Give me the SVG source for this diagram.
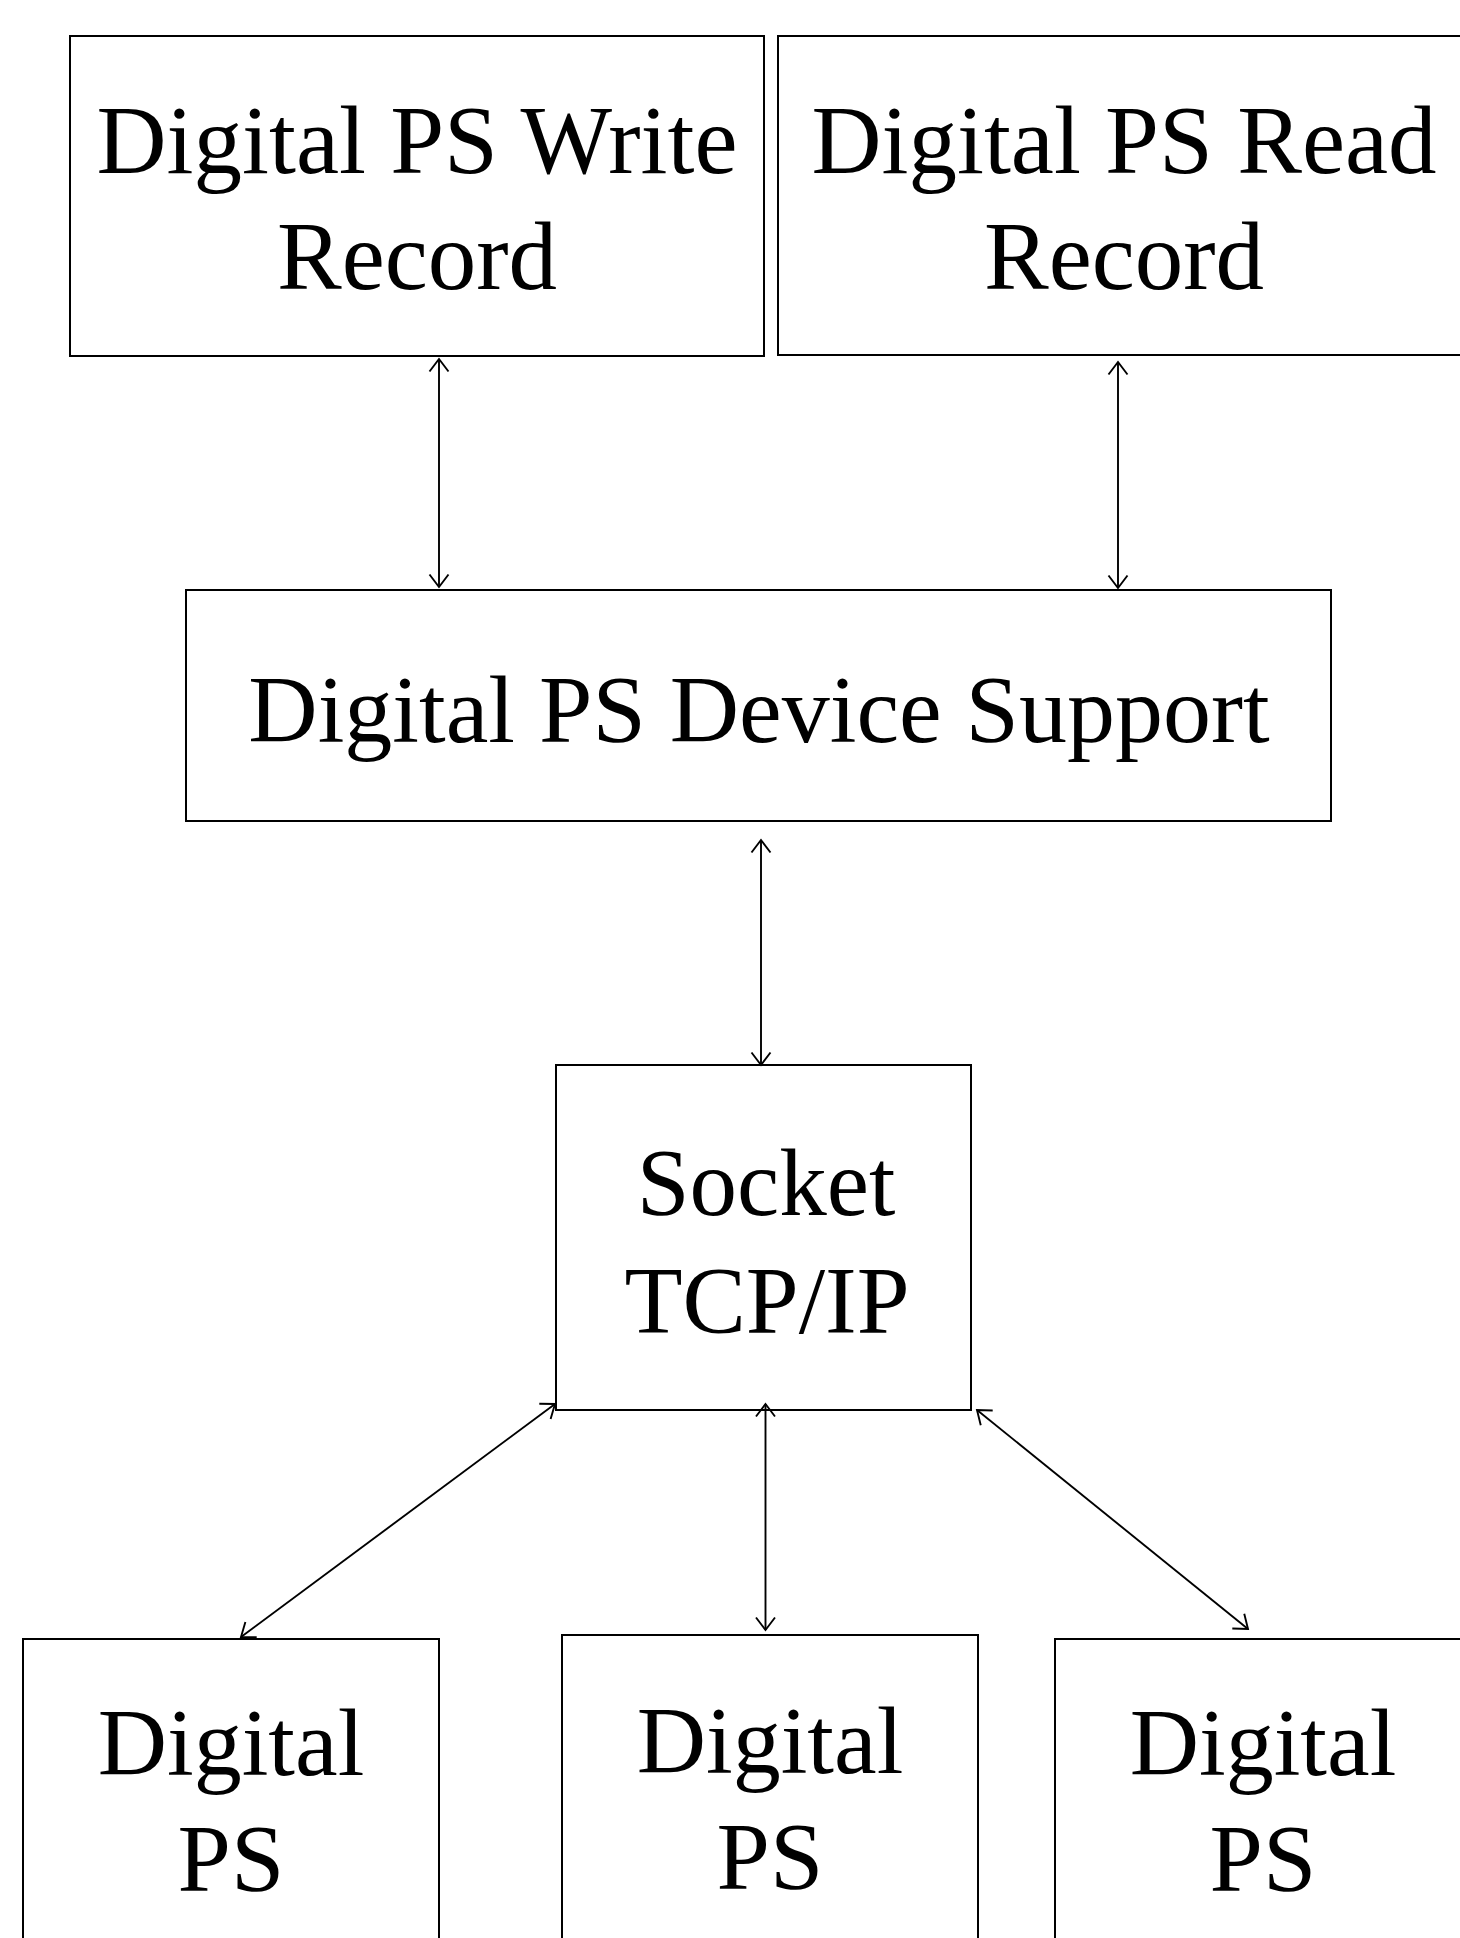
<svg xmlns="http://www.w3.org/2000/svg" width="1460" height="1938" viewBox="0 0 1460 1938">
<style>
.box{fill:#fff;stroke:#000;stroke-width:2}
.lbl{font-family:"Liberation Serif","Times New Roman",serif;font-size:95px;fill:#000;text-anchor:middle}
.con{stroke:#000;stroke-width:1.9;fill:none;marker-start:url(#ah);marker-end:url(#ah)}
</style>
<defs>
<marker id="ah" markerUnits="userSpaceOnUse" viewBox="-14 -12 16 24" refX="0" refY="0" markerWidth="16" markerHeight="24" orient="auto-start-reverse" overflow="visible">
<path d="M-12.5,-9.5 L0,0 L-12.5,9.5" fill="none" stroke="#000" stroke-width="1.9"/>
</marker>
</defs>
<rect width="1460" height="1938" fill="#fff"/>
<g id="write-record">
<rect class="box" x="70" y="36" width="694" height="320"/>
<text class="lbl" x="417" y="173" style="font-size:97px">Digital PS Write</text>
<text class="lbl" x="417" y="289" style="font-size:97px">Record</text>
</g>
<g id="read-record">
<rect class="box" x="778" y="36" width="692" height="319"/>
<text class="lbl" x="1124" y="173" style="font-size:97px">Digital PS Read</text>
<text class="lbl" x="1124" y="289" style="font-size:97px">Record</text>
</g>
<g id="device-support">
<rect class="box" x="186" y="590" width="1145" height="231"/>
<text class="lbl" x="759" y="742" style="font-size:96px">Digital PS Device Support</text>
</g>
<g id="socket">
<rect class="box" x="556" y="1065" width="415" height="345"/>
<text class="lbl" x="766" y="1215">Socket</text>
<text class="lbl" x="767" y="1333">TCP/IP</text>
</g>
<g id="ps1">
<rect class="box" x="23" y="1639" width="416" height="330"/>
<text class="lbl" x="231" y="1775" style="font-size:96px">Digital</text>
<text class="lbl" x="231" y="1891" style="font-size:96px">PS</text>
</g>
<g id="ps2">
<rect class="box" x="562" y="1635" width="416" height="335"/>
<text class="lbl" x="770" y="1773" style="font-size:96px">Digital</text>
<text class="lbl" x="770" y="1889" style="font-size:96px">PS</text>
</g>
<g id="ps3">
<rect class="box" x="1055" y="1639" width="420" height="330"/>
<text class="lbl" x="1263" y="1775" style="font-size:96px">Digital</text>
<text class="lbl" x="1263" y="1891" style="font-size:96px">PS</text>
</g>
<g id="connectors">
<line class="con" x1="439" y1="359" x2="439" y2="587"/>
<line class="con" x1="1118" y1="362" x2="1118" y2="588"/>
<line class="con" x1="761" y1="840" x2="761" y2="1065"/>
<line class="con" x1="555" y1="1404" x2="241" y2="1637"/>
<line class="con" x1="765.5" y1="1404" x2="765.5" y2="1630"/>
<line class="con" x1="977" y1="1410" x2="1248" y2="1629"/>
</g>
</svg>
